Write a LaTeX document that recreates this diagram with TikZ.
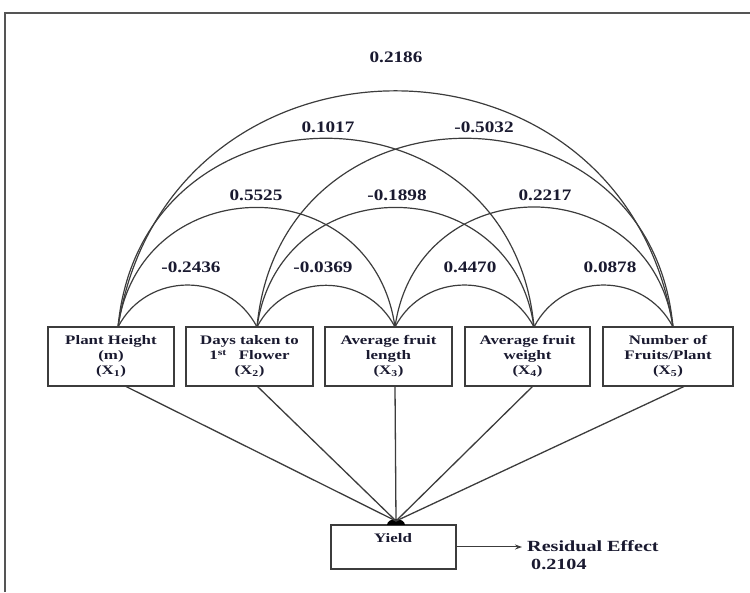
\documentclass[tikz,border=0pt]{standalone}
\usepackage{fontspec}
\setmainfont{Liberation Serif}[FakeStretch=1.3]
\newfontfamily\lblfont{Liberation Serif}[FakeStretch=1.2]
\usetikzlibrary{arrows.meta}
\definecolor{txt}{HTML}{1A1A30}
\definecolor{linec}{HTML}{3C3C3C}
\definecolor{framec}{HTML}{555555}
\begin{document}
\begin{tikzpicture}[x=1pt,y=1pt,
  box/.style={draw=linec, line width=1.3pt, minimum height=59pt, inner sep=0pt, align=center,
    font=\fontsize{13}{15}\selectfont\bfseries, text=txt},
  lbl/.style={font=\lblfont\fontsize{16}{18}\selectfont\bfseries, text=txt, inner sep=0pt},
  txtnode/.style={font=\fontsize{13}{15}\selectfont\bfseries, text=txt, inner sep=0pt},
  restxt/.style={font=\fontsize{15.5}{17}\selectfont\bfseries, text=txt, inner sep=0pt, anchor=west},
  arcl/.style={draw=linec, line width=1.2pt},
  ray/.style={draw=linec, line width=1.3pt},
  frameline/.style={draw=framec, line width=1.5pt}]
\useasboundingbox (0,0) rectangle (750,592);
\draw[frameline] (5,0) -- (5,579) -- (750,579);

% variable boxes
\node[box, minimum width=126pt] (B1) at (111,235.5) {Plant Height\\(m)\\(X\textsubscript{1})};
\node[box, minimum width=127pt] (B2) at (249.5,235.5) {Days taken to\\1\textsuperscript{st}\hspace{12pt}Flower\\(X\textsubscript{2})};
\node[box, minimum width=127pt] (B3) at (388.5,235.5) {Average fruit\\length\\(X\textsubscript{3})};
\node[box, minimum width=125pt] (B4) at (527.5,235.5) {Average fruit\\weight\\(X\textsubscript{4})};
\node[box, minimum width=130pt] (B5) at (668,235.5) {Number of\\Fruits/Plant\\(X\textsubscript{5})};

% arc attachment points
\coordinate (p1) at (118,265);
\coordinate (p2) at (257,265);
\coordinate (p3) at (395,265);
\coordinate (p4) at (534,265);
\coordinate (p5) at (673,265);

% span 1
\draw[arcl] (p1) to[out=62.5,in=117.5,looseness=1.164] (p2);
\draw[arcl] (p2) to[out=62.5,in=117.5,looseness=1.164] (p3);
\draw[arcl] (p3) to[out=62.5,in=117.5,looseness=1.164] (p4);
\draw[arcl] (p4) to[out=62.5,in=117.5,looseness=1.164] (p5);
% span 2
\draw[arcl] (p1) to[out=81.9,in=98.1,looseness=1.491] (p3);
\draw[arcl] (p2) to[out=81.9,in=98.1,looseness=1.491] (p4);
\draw[arcl] (p3) to[out=81.9,in=98.1,looseness=1.491] (p5);
% span 3
\draw[arcl] (p1) to[out=84.7,in=95.3,looseness=1.558] (p4);
\draw[arcl] (p2) to[out=84.7,in=95.3,looseness=1.558] (p5);
% span 4
\draw[arcl] (p1) to[out=81,in=99,looseness=1.473] (p5);

% correlation labels
\node[lbl] (l15) at (396,535) {0.2186};
\node[lbl] (l14) at (328,465) {0.1017};
\node[lbl] (l25) at (484,465) {-0.5032};
\node[lbl] (l13) at (256,397) {0.5525};
\node[lbl] (l24) at (397,397) {-0.1898};
\node[lbl] (l35) at (545,397) {0.2217};
\node[lbl] (l12) at (191,325) {-0.2436};
\node[lbl] (l23) at (323,325) {-0.0369};
\node[lbl] (l34) at (470,325) {0.4470};
\node[lbl] (l45) at (610,325) {0.0878};

% yield
\node[draw=linec, line width=1.3pt, minimum width=125pt, minimum height=44pt, inner sep=0pt] (Y) at (393.5,45) {};
\node[txtnode] (Yt) at (393,54) {Yield};
\fill[black] (387,67) arc[start angle=180,end angle=0,x radius=9pt,y radius=6pt] -- cycle;
\coordinate (c) at (396,71);

% paths to yield
\coordinate (q1) at (125,206);
\coordinate (q2) at (257,206);
\coordinate (q3) at (395,206);
\coordinate (q4) at (533,206);
\coordinate (q5) at (685,206);
\draw[ray] (q1) -- (c);
\draw[ray] (q2) -- (c);
\draw[ray] (q3) -- (c);
\draw[ray] (q4) -- (c);
\draw[ray] (q5) -- (c);

% residual
\node[restxt] (res) at (527,46) {Residual Effect};
\node[restxt] (rv) at (531,28) {0.2104};
\draw[ray, line width=1pt, -{Stealth[length=7pt,width=5pt]}, shorten >=5pt] (Y.east) -- (res.west |- Y.east);
\end{tikzpicture}
\end{document}
